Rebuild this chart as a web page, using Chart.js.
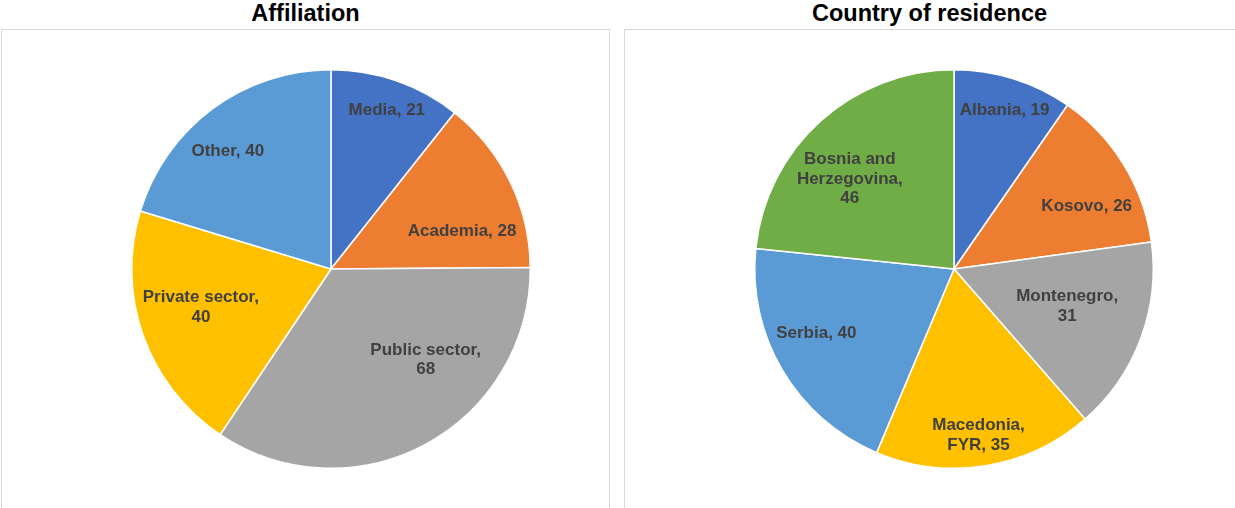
<!DOCTYPE html>
<html>
<head>
<meta charset="utf-8">
<title>Affiliation / Country of residence</title>
<script src="https://cdn.jsdelivr.net/npm/chart.js@4"></script>
<style>
    body { margin: 0; background: #fff; width: 1235px; height: 508px; overflow: hidden; position: relative; font-family: "Liberation Sans", Arial, sans-serif; }
    .box { position: absolute; top: 29px; height: 500px; border: 1px solid #d9d9d9; box-sizing: border-box; }
    .titulo { position: absolute; top: 2px; margin: 0; font-size: 23.5px; line-height: 23.5px; font-weight: bold; color: #000; text-align: center; }
    canvas { position: absolute; top: 0; }
</style>
</head>
<body>
<div class="box" style="left:1px; width:609px;"></div>
<div class="box" style="left:624px; width:620px;"></div>
<h2 class="titulo" style="left:1px; width:609px;">Affiliation</h2>
<h2 class="titulo" style="left:624px; width:611px;">Country of residence</h2>
<canvas id="chartAffiliation" width="617" height="508" style="left:0px;"></canvas>
<canvas id="chartCountry" width="618" height="508" style="left:617px;"></canvas>
<script>
// Dades
const affiliationLabels = ['Media', 'Academia', 'Public sector', 'Private sector', 'Other'];
const affiliationValues = [21, 28, 68, 40, 40];

const countryLabels = ['Albania', 'Kosovo', 'Montenegro', 'Macedonia, FYR', 'Serbia', 'Bosnia and Herzegovina'];
const countryValues = [19, 26, 31, 35, 40, 46];

const affiliationColors = ['#4472c4', '#ed7d31', '#a5a5a5', '#ffc000', '#5b9bd5'];
const countryColors = ['#4472c4', '#ed7d31', '#a5a5a5', '#ffc000', '#5b9bd5', '#70ad47'];

// posicio de cada etiqueta respecte al centre, en fraccions del radi
const affiliationLabelPos = [[0.28, -0.794], [0.658, -0.191], [0.475, 0.457], [-0.653, 0.193], [-0.518, -0.593]];
const countryLabelPos = [[0.254, -0.794], [0.666, -0.317], [0.568, 0.188], [0.123, 0.834], [-0.691, 0.322], [-0.523, -0.452]];

const LABEL_FONT = 'bold 17px "Liberation Sans", Arial, sans-serif';
const LINE_HEIGHT = 19.5;
const MAX_LINE = 118;

// parteix el text en linies com fa Excel
const wrapText = (ctx, text) => {
    const words = text.split(' ');
    const lines = [];
    let current = '';
    words.forEach(word => {
        const test = current ? current + ' ' + word : word;
        if (current && ctx.measureText(test).width > MAX_LINE) {
            lines.push(current);
            current = word;
        } else {
            current = test;
        }
    });
    lines.push(current);
    return lines;
};

const sliceLabels = {
    id: 'sliceLabels',
    afterDatasetsDraw(chart, args, opts) {
        const ctx = chart.ctx;
        const meta = chart.getDatasetMeta(0);
        const values = chart.data.datasets[0].data;
        ctx.save();
        ctx.font = LABEL_FONT;
        ctx.fillStyle = '#404040';
        ctx.textAlign = 'center';
        ctx.textBaseline = 'middle';
        meta.data.forEach((arc, i) => {
            const r = arc.outerRadius;
            const [fx, fy] = opts.positions[i];
            const cx = arc.x + fx * r;
            const cy = arc.y + fy * r;
            const lines = wrapText(ctx, `${chart.data.labels[i]}, ${values[i]}`);
            const top = cy - (lines.length - 1) * LINE_HEIGHT / 2;
            lines.forEach((line, j) => {
                ctx.fillText(line, cx, top + j * LINE_HEIGHT);
            });
        });
        ctx.restore();
    }
};

const myPie = (id, labels, values, colors, positions, padding) => {
    const ctx = document.getElementById(id).getContext('2d');
    return new Chart(ctx, {
        type: 'pie',
        data: {
            labels: labels,
            datasets: [{
                data: values,
                backgroundColor: colors,
                borderColor: '#ffffff',
                borderWidth: 1.5
            }]
        },
        options: {
            responsive: false,
            animation: false,
            devicePixelRatio: 1,
            layout: { padding: padding },
            plugins: {
                legend: { display: false },
                tooltip: { enabled: false },
                title: { display: false },
                sliceLabels: { positions: positions }
            }
        },
        plugins: [sliceLabels]
    });
};

document.addEventListener('DOMContentLoaded', () => {
    myPie('chartAffiliation', affiliationLabels, affiliationValues, affiliationColors, affiliationLabelPos,
        { left: 131, right: 86, top: 69, bottom: 39 });
    myPie('chartCountry', countryLabels, countryValues, countryColors, countryLabelPos,
        { left: 137, right: 81, top: 69, bottom: 39 });
});
</script>
</body>
</html>
